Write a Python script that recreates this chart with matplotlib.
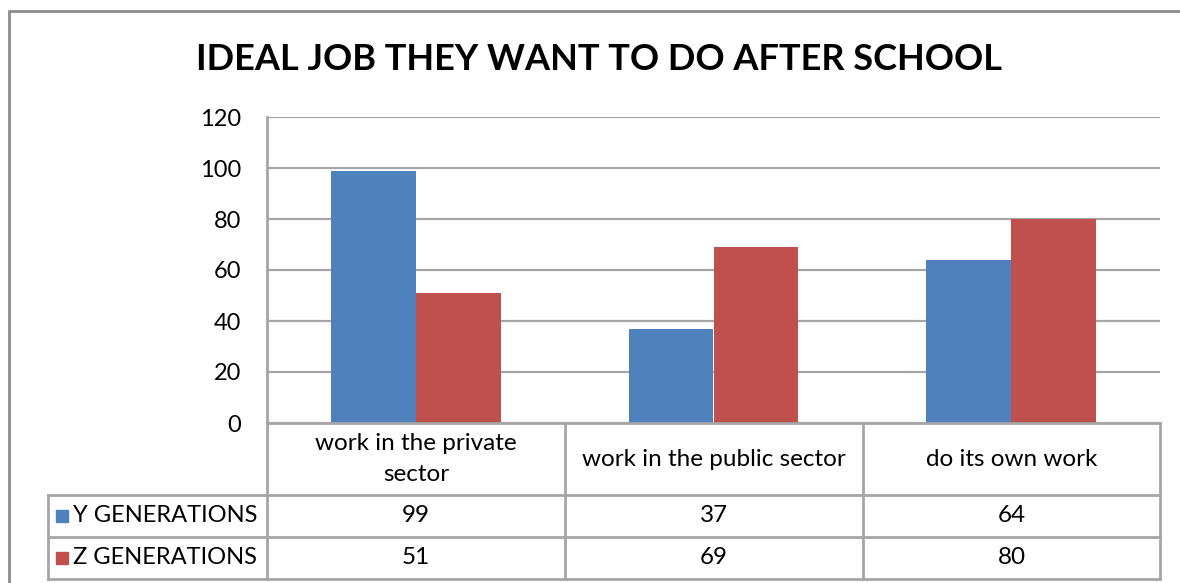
import matplotlib
matplotlib.use("Agg")
import matplotlib.pyplot as plt
from matplotlib.patches import Rectangle
from matplotlib.lines import Line2D

# Data
categories = ["work in the private\nsector", "work in the public sector", "do its own work"]
series_names = ["Y GENERATIONS", "Z GENERATIONS"]
y_generations = [99, 37, 64]
z_generations = [51, 69, 80]
y_ticks = [0, 20, 40, 60, 80, 100, 120]
title = "IDEAL JOB THEY WANT TO DO AFTER SCHOOL"

colors = ["#4F81BD", "#C0504D"]
grid_color = "#A6A6A6"
FONT = "Lato"

W, H = 1180, 583
fig = plt.figure(figsize=(W / 100, H / 100), dpi=100)
fig.patch.set_facecolor("white")


def fx(px):
    return px / W


def fy(py):
    return 1 - py / H


# Plot area
left, right, top, bottom = 267, 1160, 117, 423
ax = fig.add_axes([fx(left), fy(bottom), fx(right) - fx(left), fy(top) - fy(bottom)])
ax.set_xlim(-0.5, 2.5)
ax.set_ylim(0, 120)
ax.set_yticks(y_ticks)
ax.set_yticklabels([str(t) for t in y_ticks], fontsize=17, family=FONT)
ax.tick_params(axis="y", length=0, pad=18.5)
ax.set_xticks([])
for side in ["top", "right", "bottom"]:
    ax.spines[side].set_visible(False)
ax.spines["left"].set_color(grid_color)
ax.spines["left"].set_linewidth(2)
ax.yaxis.grid(True, color=grid_color, linewidth=1.6)
ax.set_axisbelow(True)

bw = 0.285
xs = range(len(categories))
ax.bar([x - bw for x in xs], y_generations, width=bw, align="edge", color=colors[0], zorder=3)
ax.bar(list(xs), z_generations, width=bw, align="edge", color=colors[1], zorder=3)

# Title
fig.text(fx(599), fy(60), title, ha="center", va="center", fontsize=26,
         fontweight="bold", family=FONT)

# Outer chart frame
fig.add_artist(Rectangle((fx(9), fy(600)), 1.2, fy(11) - fy(600),
                         transform=fig.transFigure, fill=False,
                         edgecolor="#8C8C8C", linewidth=2))

# Data table
col_edges = [267, 565, 863, 1160]
row_edges = [423, 495, 537, 579]
label_left = 48
TFS = 17.5


def hline(x0, x1, y):
    fig.add_artist(Line2D([fx(x0), fx(x1)], [fy(y), fy(y)], transform=fig.transFigure,
                          color=grid_color, linewidth=2))


def vline(x, y0, y1):
    fig.add_artist(Line2D([fx(x), fx(x)], [fy(y0), fy(y1)], transform=fig.transFigure,
                          color=grid_color, linewidth=2))


hline(col_edges[0], col_edges[-1], row_edges[0])
for r in row_edges[1:]:
    hline(label_left, col_edges[-1], r)
for c in col_edges:
    vline(c, row_edges[0], row_edges[-1])
vline(label_left, row_edges[1], row_edges[-1])

for i, cat in enumerate(categories):
    cx = (col_edges[i] + col_edges[i + 1]) / 2
    cy = (row_edges[0] + row_edges[1]) / 2
    fig.text(fx(cx), fy(cy), cat, ha="center", va="center", fontsize=TFS,
             family=FONT, linespacing=1.6)

for j, (name, vals) in enumerate(zip(series_names, [y_generations, z_generations])):
    cy = (row_edges[j + 1] + row_edges[j + 2]) / 2
    fig.add_artist(Rectangle((fx(56), fy(cy + 6)), fx(12), fy(0) - fy(12),
                             transform=fig.transFigure, color=colors[j]))
    fig.text(fx(73), fy(cy), name, ha="left", va="center", fontsize=17, family=FONT)
    for i, v in enumerate(vals):
        cx = (col_edges[i] + col_edges[i + 1]) / 2
        fig.text(fx(cx), fy(cy), str(v), ha="center", va="center", fontsize=TFS, family=FONT)

fig.savefig("out.png", dpi=100, facecolor="white")
